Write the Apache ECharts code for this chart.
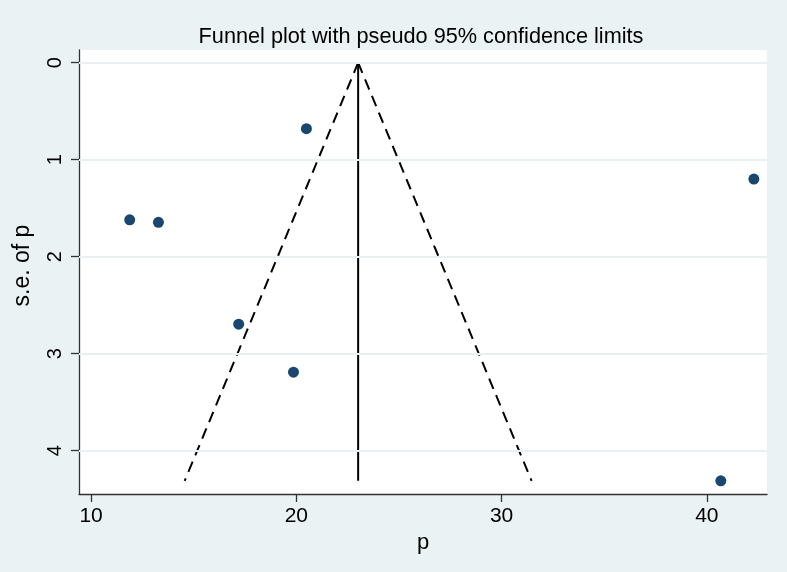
<!DOCTYPE html>
<html>
<head>
<meta charset="utf-8">
<script src="https://cdn.jsdelivr.net/npm/echarts@6/dist/echarts.min.js"></script>
<style>html,body{margin:0;padding:0;background:#eaf2f3;}#c{width:787px;height:572px;}</style>
</head>
<body>
<div id="c"></div>
<script>
// Study estimates (p) and their standard errors (s.e. of p)
const studyP  = [20.49, 11.88, 13.28, 17.19, 19.86, 42.29, 40.68];
const studySE = [0.68, 1.62, 1.645, 2.695, 3.19, 1.20, 4.31];
// Funnel: pooled estimate line and pseudo 95% limits (from apex to max s.e.)
const centreP = [23.01, 23.01];
const lowerP  = [23.01, 14.56];
const upperP  = [23.01, 31.46];
const limitSE = [0, 4.31];
// Tick labels
const xTicks = [10, 20, 30, 40];
const yTicks = [0, 1, 2, 3, 4];

const FONT = '"Liberation Sans", Arial, sans-serif';
const pts = studyP.map((p, i) => [p, studySE[i]]);
const pair = (xs) => xs.map((x, i) => [x, limitSE[i]]);

const chart = echarts.init(document.getElementById('c'), null, {renderer: 'canvas'});
chart.setOption({
  animation: false,
  backgroundColor: '#eaf2f3',
  textStyle: {fontFamily: FONT},
  title: {
    text: 'Funnel plot with pseudo 95% confidence limits',
    left: 416, top: 21, textAlign: 'center',
    textStyle: {fontFamily: FONT, fontSize: 21.7, fontWeight: 'normal', color: '#000'}
  },
  grid: {
    left: 79, right: 20, top: 50, bottom: 78,
    show: true, backgroundColor: '#ffffff', borderWidth: 0
  },
  xAxis: {
    type: 'value', min: 9.41, max: 42.93,
    name: 'p', nameLocation: 'middle', nameGap: 36,
    nameTextStyle: {fontFamily: FONT, fontSize: 22, color: '#000'},
    axisLine: {show: true, onZero: false, lineStyle: {color: '#333', width: 1.3}},
    axisTick: {show: true, length: 8, customValues: xTicks, lineStyle: {color: '#333', width: 1.3}},
    axisLabel: {customValues: xTicks, fontFamily: FONT, fontSize: 21, color: '#000', margin: 12},
    splitLine: {show: false}
  },
  yAxis: {
    type: 'value', inverse: true, min: -0.131, max: 4.446,
    name: 's.e. of p', nameLocation: 'middle', nameGap: 45, nameRotate: 90,
    nameTextStyle: {fontFamily: FONT, fontSize: 23, color: '#000', padding: [0, 0, 0, 13]},
    axisLine: {show: true, onZero: false, lineStyle: {color: '#333', width: 1.3}},
    axisTick: {show: true, length: 8, customValues: yTicks, lineStyle: {color: '#333', width: 1.3}},
    axisLabel: {customValues: yTicks, rotate: 90, fontFamily: FONT, fontSize: 20, color: '#000', margin: 14},
    splitLine: {show: false}
  },
  series: [
    {
      type: 'line', data: [], z: 1, silent: true,
      markLine: {
        silent: true, symbol: 'none', label: {show: false},
        lineStyle: {color: '#e8f0f1', width: 2, type: 'solid'},
        data: yTicks.map(v => ({yAxis: v}))
      }
    },
    {
      type: 'line', data: pair(lowerP), z: 3, symbol: 'none', silent: true,
      lineStyle: {color: '#000', width: 2, type: [11, 7]}
    },
    {
      type: 'line', data: pair(upperP), z: 3, symbol: 'none', silent: true,
      lineStyle: {color: '#000', width: 2, type: [11, 7]}
    },
    {
      type: 'line', data: pair(centreP), z: 3, symbol: 'none', silent: true,
      lineStyle: {color: '#000', width: 2, type: 'solid'}
    },
    {
      type: 'scatter', data: pts, z: 4, symbol: 'circle', symbolSize: 11,
      itemStyle: {color: '#1a476f', opacity: 1}
    }
  ]
});
</script>
</body>
</html>
